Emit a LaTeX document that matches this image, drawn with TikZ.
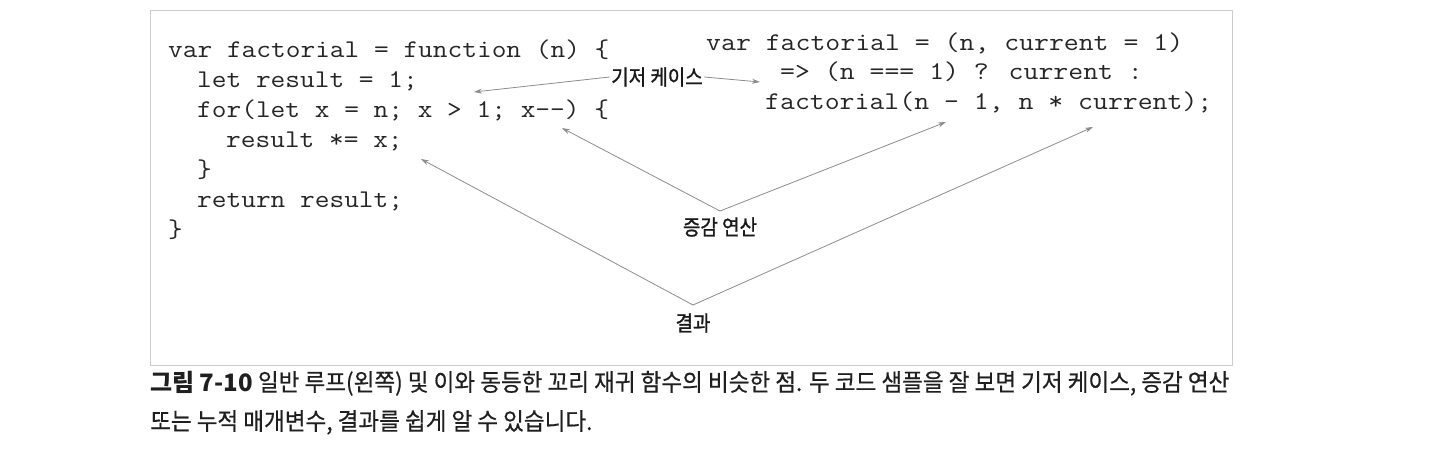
\documentclass[tikz,border=0pt]{standalone}
\usepackage{fontspec}
\newfontfamily\codeL[FakeStretch=1.12]{Latin Modern Mono}
\newfontfamily\codeR[FakeStretch=1.135]{Latin Modern Mono}
\newfontfamily\kr{Noto Sans CJK KR}
\newfontfamily\krlbl[FakeStretch=0.89,FakeBold=1.2]{Noto Sans CJK KR}
\newfontfamily\krcap[FakeStretch=0.94,FakeBold=0.5]{Noto Sans CJK KR}
\usetikzlibrary{arrows.meta}
\begin{document}
\begin{tikzpicture}[x=1pt,y=-1pt,
  code/.style={anchor=base west, inner sep=0pt, font=\codeL\fontsize{25.5}{28}\selectfont, text=black!85},
  coder/.style={code, font=\codeR\fontsize{25.5}{28}\selectfont},
  lbl/.style={inner sep=1.5pt, font=\krlbl\fontsize{21.3}{23}\selectfont, text=black!90},
  arr/.style={draw=black!45, line width=0.8pt, -{Stealth[length=8pt,width=5pt]}},
  captext/.style={anchor=base west, inner sep=0pt, font=\krcap\fontsize{24}{26}\selectfont, text=black!88}]
\useasboundingbox (0,0) rectangle (1440,475);
\fill[white] (0,0) rectangle (1440,475);
\draw[black!20, line width=1pt] (150,10) rectangle (1232,365);
% left code
\node[code] (l1) at (168,57) {var factorial = function (n) \{};
\node[code] (l2) at (197,87.5) {let result = 1;};
\node[code] (l3) at (197,117) {for(let x = n; x > 1; x-{}-) \{};
\node[code] (l4) at (226,147) {result *= x;};
\node[code] (l5) at (197,177) {\}};
\node[code] (l6) at (197,207) {return result;};
\node[code] (l7) at (168,237) {\}};
% right code
\node[coder] (r1) at (706,50) {var factorial = (n, current = 1)};
\node[coder] (r2) at (780,79) {=> (n === 1) ? current :};
\node[coder] (r3) at (765,109) {factorial(n - 1, n * current);};
% labels
\node[lbl] (base) at (657,77) {기저 케이스};
\node[lbl] (inc) at (720,227) {증감 연산};
\node[lbl] (res) at (693,323) {결과};
% arrow ends
\coordinate (bL) at (474,92);
\coordinate (bR) at (760,82);
\coordinate (iA) at (720,211);
\coordinate (iL) at (562,128);
\coordinate (iR) at (946,122);
\coordinate (rA) at (693,305);
\coordinate (rL) at (421,159);
\coordinate (rR) at (1093,127);
\draw[arr] (base.west) -- (bL);
\draw[arr] (base.east) -- (bR);
\draw[arr] (iA) -- (iL);
\draw[arr] (iA) -- (iR);
\draw[arr] (rA) -- (rL);
\draw[arr] (rA) -- (rR);
% caption
\node[captext] (cap1) at (150,391) {{\kr\bfseries 그림 7-10} 일반 루프(왼쪽) 및 이와 동등한 꼬리 재귀 함수의 비슷한 점. 두 코드 샘플을 잘 보면 기저 케이스, 증감 연산};
\node[captext] (cap2) at (150,430) {또는 누적 매개변수, 결과를 쉽게 알 수 있습니다.};
\end{tikzpicture}
\end{document}
